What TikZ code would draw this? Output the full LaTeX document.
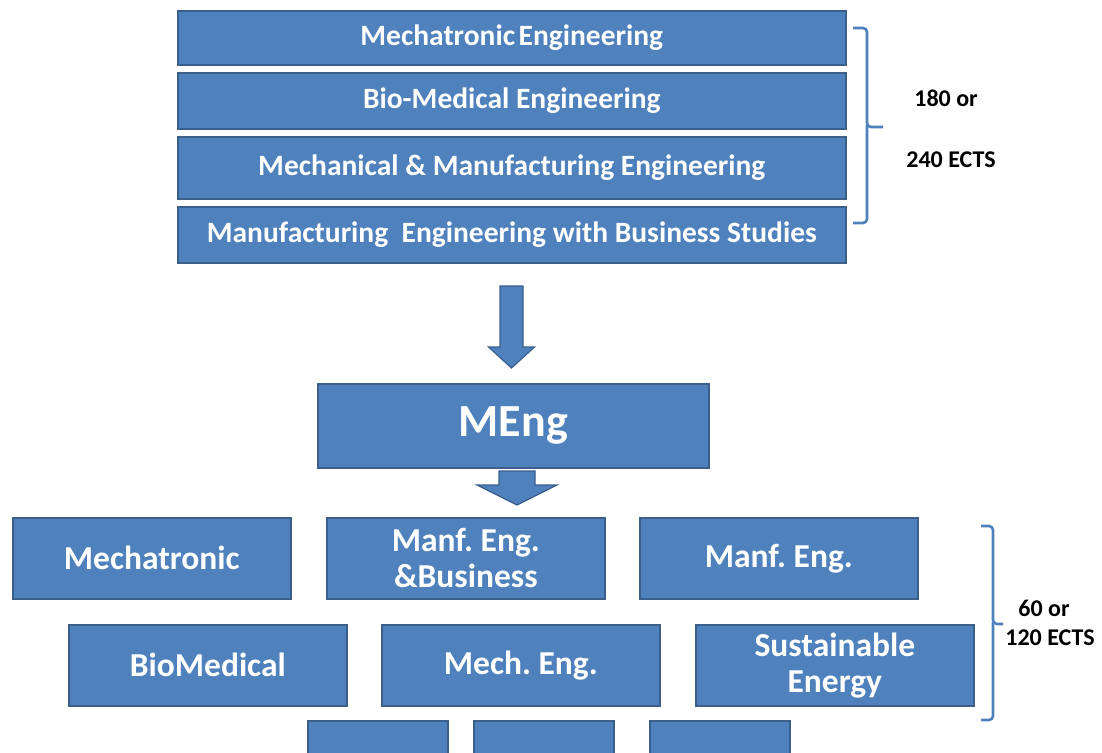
\documentclass[tikz,border=0pt]{standalone}
\usepackage{fontspec}
\setmainfont{Carlito}
\usetikzlibrary{shadows}
\definecolor{boxblue}{HTML}{4F81BD}
\definecolor{boxedge}{HTML}{3A5F8B}
\frenchspacing
\tikzset{
  box/.style={draw=boxedge, line width=1.6pt, fill=boxblue, text=white,
    font=\bfseries, anchor=north west, inner sep=0pt, align=center,
    drop shadow={shadow xshift=0.8pt, shadow yshift=-1.6pt, opacity=0.35}},
  topbox/.style={box, minimum width=668pt, font=\fontsize{29.5}{31}\selectfont\bfseries},
  lowbox/.style={box, minimum width=278pt, minimum height=81pt, font=\fontsize{33.5}{38}\selectfont\bfseries},
  blockarrow/.style={draw=boxedge, line width=1.2pt, fill=boxblue, line join=miter},
  bracket/.style={draw=boxblue, line width=2.6pt, rounded corners=4pt},
  ects/.style={font=\fontsize{24}{26}\selectfont\bfseries, text=black, inner sep=0pt}
}
\begin{document}
\begin{tikzpicture}[x=1pt,y=-1pt]
\useasboundingbox (0,0) rectangle (1102,752);
\clip (0,0) rectangle (1102,752);
\fill[white] (0,0) rectangle (1102,752);

% top stack
\node[topbox, minimum height=54pt] (t1) at (177,10) {Mechatronic\hspace{0.12em}Engineering};
\node[topbox, minimum height=56pt] (t2) at (177,72) {Bio-Medical Engineering};
\node[topbox, minimum height=62pt] (t3) at (177,136) {Mechanical \& Manufacturing Engineering};
\node[topbox, minimum height=56pt] (t4) at (177,206) {Manufacturing\ \ Engineering with Business Studies};

% top bracket
\coordinate (b1top) at (853,28);
\coordinate (b1bot) at (853,223);
\draw[bracket] (b1top) -- (867,28) -- (867,127) -- (883,127);
\draw[bracket] (867,125) -- (867,223) -- (b1bot);
\node[ects] (e1) at (946,98) {180 or};
\node[ects] (e2) at (951,160) {240 ECTS};

% arrow 1
\coordinate (a1) at (511.5,286);
\draw[blockarrow] (a1) ++(-11.5,0) -- ++(23,0) -- ++(0,61) -- ++(11.5,0)
  -- (511.5,368) -- (488.5,347) -- ++(11.5,0) -- cycle;

% MEng
\node[box, minimum width=391pt, minimum height=84pt,
  font=\fontsize{46}{50}\selectfont\bfseries] (meng) at (317,383) {MEng};

% arrow 2
\coordinate (a2) at (517,471);
\draw[blockarrow] (a2) ++(-18,0) -- ++(36,0) -- ++(0,14) -- ++(22,0)
  -- (517,505) -- (477,485) -- ++(22,0) -- cycle;

% lower boxes
\node[lowbox] (m1) at (12,517) {Mechatronic};
\node[lowbox] (m2) at (326,517) {Manf. Eng.\\[-2pt]\&Business};
\node[lowbox] (m3) at (639,517) {Manf. Eng.};
\node[lowbox] (m4) at (68,624) {BioMedical};
\node[lowbox] (m5) at (381,624) {Mech. Eng.};
\node[lowbox] (m6) at (695,624) {Sustainable\\[-2pt]Energy};
\node[box, minimum width=140pt, minimum height=60pt] (s1) at (307,720) {};
\node[box, minimum width=140pt, minimum height=60pt] (s2) at (473,720) {};
\node[box, minimum width=140pt, minimum height=60pt] (s3) at (649,720) {};

% lower bracket
\coordinate (b2top) at (981,526);
\coordinate (b2bot) at (981,720);
\draw[bracket] (b2top) -- (993,526) -- (993,624) -- (1003,624);
\draw[bracket] (993,622) -- (993,720) -- (b2bot);
\node[ects] (e3) at (1044,608) {60 or};
\node[ects] (e4) at (1050,638) {120 ECTS};
\end{tikzpicture}
\end{document}
